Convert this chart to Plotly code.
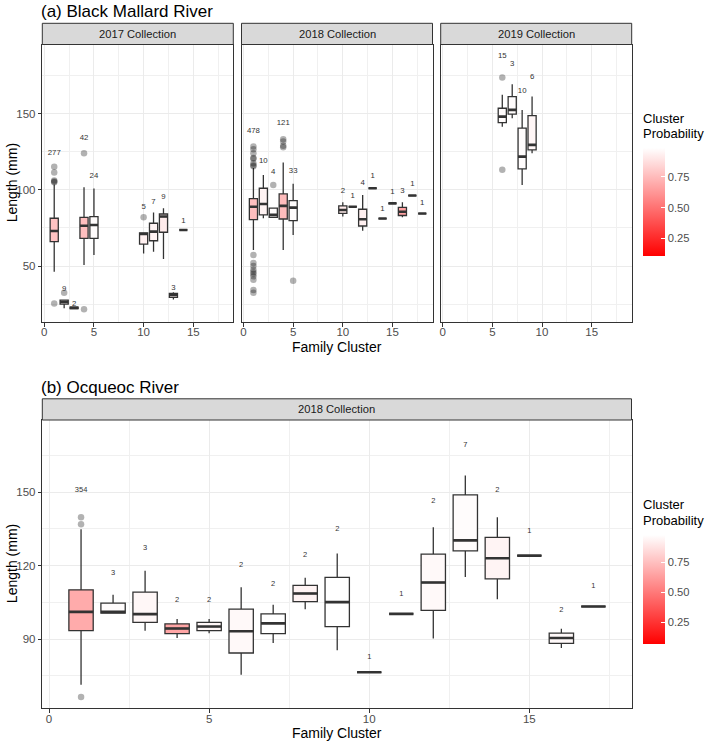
import plotly.graph_objects as go

W, H = 709, 744
FONT = "Liberation Sans, Arial, sans-serif"

# ---------------- DATA ----------------
# (a) Black Mallard River - 2017 Collection
c17 = [1, 2, 3, 4, 5, 10, 11, 12, 13, 14]
n17 = [277, 9, 2, 42, 24, 5, 7, 9, 3, 1]
q1_17 = [66.0, 25.0, 22.0, 68.2, 68.2, 64.4, 66.6, 72.2, 29.4, 73.7]
med_17 = [73.0, 26.3, 22.5, 76.5, 77.0, 71.0, 72.6, 82.5, 30.9, 73.7]
q3_17 = [81.4, 27.6, 23.0, 82.0, 82.5, 71.8, 78.1, 84.2, 32.0, 73.7]
lo_17 = [46.3, 22.2, 22.0, 50.7, 57.2, 58.3, 59.4, 54.6, 28.0, 73.7]
hi_17 = [103.5, 28.0, 23.0, 101.7, 101.0, 72.0, 85.1, 88.0, 32.7, 73.7]
prob_17 = [0.77, 0.95, 0.92, 0.76, 0.97, 0.93, 0.94, 0.91, 0.93, 0.95]
out17_c = [1, 1, 1, 1, 1, 1, 2, 4, 4, 10]
out17_v = [25.4, 105.0, 105.6, 106.2, 111.4, 115.3, 32.4, 21.5, 124.1, 82.0]

# (a) 2018 Collection
c18 = [1, 2, 3, 4, 5, 10, 11, 12, 13, 14, 15, 16, 17, 18]
n18 = [478, 10, 4, 121, 33, 2, 1, 4, 1, 1, 1, 3, 1, 1]
q1_18 = [80.5, 83.6, 82.0, 80.9, 79.8, 84.6, 89.0, 76.3, 101.1, 81.2, 91.2, 83.2, 96.3, 84.5]
med_18 = [89.0, 90.8, 83.6, 89.5, 88.4, 86.8, 89.0, 80.7, 101.1, 81.2, 91.2, 85.7, 96.3, 84.5]
q3_18 = [94.3, 101.1, 88.0, 97.4, 93.0, 89.5, 89.0, 87.3, 101.1, 81.2, 91.2, 88.6, 96.3, 84.5]
lo_18 = [60.5, 81.4, 82.0, 60.5, 70.4, 82.5, 89.0, 73.2, 101.1, 81.2, 91.2, 82.0, 96.3, 84.5]
hi_18 = [114.5, 109.9, 88.0, 118.0, 104.0, 91.9, 89.0, 96.7, 101.1, 81.2, 91.2, 91.9, 96.3, 84.5]
prob_18 = [0.76, 0.94, 0.97, 0.75, 0.97, 0.91, 0.95, 0.93, 0.95, 0.95, 0.95, 0.66, 0.95, 0.95]
out18_c = [1] * 18 + [3, 4, 4, 4, 4, 5]
out18_v = [128.5, 126.8, 124.1, 121.0, 120.5, 117.5, 116.2, 115.6,
           57.2, 52.0, 50.0, 47.6, 46.0, 44.8, 43.2, 41.0, 34.2, 32.4,
           103.3, 133.3, 131.8, 129.0, 128.0, 40.3]

# (a) 2019 Collection
c19 = [6, 7, 8, 9]
n19 = [15, 3, 10, 6]
q1_19 = [144.3, 149.8, 113.8, 126.3]
med_19 = [148.2, 152.6, 121.9, 129.6]
q3_19 = [153.7, 161.4, 140.6, 148.9]
lo_19 = [141.6, 147.2, 103.3, 124.1]
hi_19 = [162.5, 169.5, 152.6, 161.4]
prob_19 = [0.97, 0.97, 0.97, 0.95]
out19_c = [6, 6]
out19_v = [173.9, 113.2]

# (b) Ocqueoc River - 2018 Collection
cb = list(range(1, 18))
nb = [354, 3, 3, 2, 2, 2, 2, 2, 2, 1, 1, 2, 7, 2, 1, 2, 1]
q1_b = [93.4, 100.6, 96.8, 92.2, 93.4, 84.3, 92.2, 105.3, 95.1, 76.4, 100.3, 101.7, 126.0, 114.6, 124.1, 88.2, 103.3]
med_b = [101.1, 101.1, 100.2, 94.3, 95.1, 93.2, 96.4, 108.6, 105.1, 76.4, 100.3, 113.1, 130.3, 123.0, 124.1, 90.4, 103.3]
q3_b = [110.1, 104.7, 109.2, 96.2, 96.8, 102.2, 100.3, 111.9, 115.2, 76.4, 100.3, 124.7, 148.9, 131.5, 124.1, 92.4, 103.3]
lo_b = [71.3, 100.3, 93.4, 90.4, 92.4, 75.4, 88.4, 102.2, 85.4, 76.4, 100.3, 90.2, 115.3, 106.3, 124.1, 86.3, 103.3]
hi_b = [134.9, 108.1, 117.9, 98.2, 98.2, 111.2, 104.0, 115.0, 125.0, 76.4, 100.3, 135.7, 156.8, 139.8, 124.1, 94.2, 103.3]
prob_b = [0.68, 0.97, 0.95, 0.66, 0.95, 0.96, 0.98, 0.94, 0.98, 0.96, 0.96, 0.96, 0.97, 0.94, 0.96, 0.96, 0.96]
outb_c = [1, 1, 1]
outb_v = [139.8, 136.9, 66.3]

x_ticks = [0, 5, 10, 15]
ya_ticks = [50, 100, 150]
yb_ticks = [90, 120, 150]
cbar_ticks = [0.25, 0.50, 0.75]
strip_a = ["2017 Collection", "2018 Collection", "2019 Collection"]
strip_b = "2018 Collection"

# ---------------- STYLE / LAYOUT ----------------
def px(x):
    return x / W

def py(y):
    return 1 - y / H

CMIN_A, CMAX_A = 0.106, 0.98
CMIN_B, CMAX_B = 0.07, 0.98
SCALE = [[0, "#FF0000"], [1, "#FFFFFF"]]

def fill(p, cmin, cmax):
    t = max(0.0, min(1.0, (p - cmin) / (cmax - cmin)))
    g = round(255 * t)
    return f"rgb(255,{g},{g})"

fig = go.Figure()

def add_panel(xa, ya, cs, ns, q1, med, q3, lo, hi, prob, oc, ov, width, cmin, cmax, lblsize):
    for i, c in enumerate(cs):
        fig.add_trace(go.Box(
            x=[c], q1=[q1[i]], median=[med[i]], q3=[q3[i]],
            lowerfence=[lo[i]], upperfence=[hi[i]],
            width=width, fillcolor=fill(prob[i], cmin, cmax),
            line=dict(color="#333333", width=1.3), whiskerwidth=0,
            boxpoints=False, xaxis=xa, yaxis=ya, showlegend=False, hoverinfo="skip"))
    mx, my = [], []
    for i, c in enumerate(cs):
        mx += [c - width / 2, c + width / 2, None]
        my += [med[i], med[i], None]
    fig.add_trace(go.Scatter(x=mx, y=my, mode="lines", line=dict(color="#333333", width=2.6),
                             xaxis=xa, yaxis=ya, showlegend=False, hoverinfo="skip"))
    fig.add_trace(go.Scatter(x=oc, y=ov, mode="markers",
                             marker=dict(size=6.5, color="rgba(0,0,0,0.3)", line=dict(width=0)),
                             xaxis=xa, yaxis=ya, showlegend=False, hoverinfo="skip"))
    ly = []
    for i, c in enumerate(cs):
        m = hi[i]
        for cc, vv in zip(oc, ov):
            if cc == c:
                m = max(m, vv)
        ly.append(1.08 * m)
    fig.add_trace(go.Scatter(x=cs, y=ly, mode="text", text=[str(n) for n in ns],
                             textfont=dict(size=lblsize, color="#333333", family=FONT),
                             xaxis=xa, yaxis=ya, showlegend=False, hoverinfo="skip"))

WA = 0.82
WB = 0.76
add_panel("x", "y", c17, n17, q1_17, med_17, q3_17, lo_17, hi_17, prob_17, out17_c, out17_v, WA, CMIN_A, CMAX_A, 7.8)
add_panel("x2", "y2", c18, n18, q1_18, med_18, q3_18, lo_18, hi_18, prob_18, out18_c, out18_v, WA, CMIN_A, CMAX_A, 7.8)
add_panel("x3", "y3", c19, n19, q1_19, med_19, q3_19, lo_19, hi_19, prob_19, out19_c, out19_v, WA, CMIN_A, CMAX_A, 7.8)
add_panel("x4", "y4", cb, nb, q1_b, med_b, q3_b, lo_b, hi_b, prob_b, outb_c, outb_v, WB, CMIN_B, CMAX_B, 7.5)

LEG_FONT = 11.2

def cbar_trace(xa, ya, cmin, cmax, top_px, len_px):
    return go.Scatter(
        x=[-50], y=[-50], mode="markers", xaxis=xa, yaxis=ya, showlegend=False, hoverinfo="skip",
        marker=dict(color=[cmin], cmin=cmin, cmax=cmax, colorscale=SCALE, showscale=True, size=1,
                    colorbar=dict(x=px(643), xanchor="left", y=py(top_px), yanchor="top",
                                  len=len_px, lenmode="pixels", thickness=22, thicknessmode="pixels",
                                  outlinewidth=0, xpad=0, ypad=0,
                                  tickvals=cbar_ticks, ticktext=[f"{v:.2f}" for v in cbar_ticks],
                                  ticks="inside", ticklen=4, tickcolor="white",
                                  tickfont=dict(size=LEG_FONT, color="#4D4D4D", family=FONT))))

fig.add_trace(cbar_trace("x", "y", CMIN_A, CMAX_A, 148.3, 108))
fig.add_trace(cbar_trace("x4", "y4", CMIN_B, CMAX_B, 535, 109))

TOP_Y = (44.5, 322.0)
BOT_Y = (420.0, 708.3)
PANELS_X = [(42.3, 233.3), (241.5, 432.5), (440.7, 631.7)]
BOT_X = (42.3, 631.5)

tickfont = dict(size=11.5, color="#4D4D4D", family=FONT)

def xaxis(dom, rng, anchor):
    return dict(domain=[px(dom[0]), px(dom[1])], range=rng, anchor=anchor,
                tickvals=x_ticks, ticks="outside", ticklen=3.5, tickcolor="#333333", tickwidth=1,
                ticklabelstandoff=-4,
                tickfont=tickfont, showgrid=True, gridcolor="#EBEBEB", gridwidth=1.1,
                minor=dict(tickvals=[2.5, 7.5, 12.5, 17.5], showgrid=True, gridcolor="#F0F0F0", gridwidth=0.6),
                showline=True, linecolor="#333333", linewidth=1, mirror=True, zeroline=False,
                automargin=False, fixedrange=True)

def yaxis(dom, rng, anchor, ticks, minor_vals, labels=True):
    return dict(domain=[py(dom[1]), py(dom[0])], range=rng, anchor=anchor,
                tickvals=ticks, ticks="outside" if labels else "", ticklen=3.5, tickcolor="#333333",
                showticklabels=labels, tickfont=tickfont, showgrid=True, gridcolor="#EBEBEB", gridwidth=1.1,
                minor=dict(tickvals=minor_vals, showgrid=True, gridcolor="#F0F0F0", gridwidth=0.6),
                showline=True, linecolor="#333333", linewidth=1, mirror=True, zeroline=False,
                automargin=False, fixedrange=True)

XR_A = [-0.2, 19.03]
XR_B = [-0.21, 18.19]
YR_A = [13.2, 195.6]
YR_B = [61.7, 179.5]
minA = [25, 75, 125, 175]
minB = [75, 105, 135, 165]

fig.update_layout(
    width=W, height=H, template="none",
    margin=dict(l=0, r=0, t=0, b=0),
    paper_bgcolor="white", plot_bgcolor="white", showlegend=False,
    font=dict(family=FONT),
    xaxis=xaxis(PANELS_X[0], XR_A, "y"),
    xaxis2=xaxis(PANELS_X[1], XR_A, "y2"),
    xaxis3=xaxis(PANELS_X[2], XR_A, "y3"),
    xaxis4=xaxis(BOT_X, XR_B, "y4"),
    yaxis=yaxis(TOP_Y, YR_A, "x", ya_ticks, minA, True),
    yaxis2=yaxis(TOP_Y, YR_A, "x2", ya_ticks, minA, False),
    yaxis3=yaxis(TOP_Y, YR_A, "x3", ya_ticks, minA, False),
    yaxis4=yaxis(BOT_Y, YR_B, "x4", yb_ticks, minB, True),
)

shapes = []
ann = []
STRIP_H = 21.2
STRIP_FONT = dict(size=11.2, color="#1A1A1A", family=FONT)
for (x0, x1), label in zip(PANELS_X, strip_a):
    shapes.append(dict(type="rect", xref="paper", yref="paper", x0=px(x0), x1=px(x1),
                       y0=py(TOP_Y[0]), y1=py(TOP_Y[0] - STRIP_H),
                       fillcolor="#D9D9D9", line=dict(color="#333333", width=1)))
    ann.append(dict(text=label, x=px((x0 + x1) / 2), y=py(TOP_Y[0] - STRIP_H / 2), xref="paper", yref="paper",
                    showarrow=False, xanchor="center", yanchor="middle", font=STRIP_FONT))
shapes.append(dict(type="rect", xref="paper", yref="paper", x0=px(BOT_X[0]), x1=px(BOT_X[1]),
                   y0=py(BOT_Y[0]), y1=py(BOT_Y[0] - STRIP_H),
                   fillcolor="#D9D9D9", line=dict(color="#333333", width=1)))
ann.append(dict(text=strip_b, x=px((BOT_X[0] + BOT_X[1]) / 2), y=py(BOT_Y[0] - STRIP_H / 2), xref="paper", yref="paper",
                showarrow=False, xanchor="center", yanchor="middle", font=STRIP_FONT))

# titles (aligned with panel left edge, as ggplot does)
TITLE_FONT = dict(size=17, color="black", family=FONT)
ann.append(dict(text="(a) Black Mallard River", x=px(39), y=py(TOP_Y[0] - STRIP_H - 11.5), xref="paper", yref="paper",
                showarrow=False, xanchor="left", yanchor="middle", font=TITLE_FONT))
ann.append(dict(text="(b) Ocqueoc River", x=px(39), y=py(BOT_Y[0] - STRIP_H - 11.5), xref="paper", yref="paper",
                showarrow=False, xanchor="left", yanchor="middle", font=TITLE_FONT))

# axis titles
AX_FONT = dict(size=14, color="black", family=FONT)
for (y0, y1), tx in [(TOP_Y, 347), (BOT_Y, 733)]:
    ann.append(dict(text="Length (mm)", x=px(12), y=py((y0 + y1) / 2), xref="paper", yref="paper",
                    showarrow=False, textangle=-90, xanchor="center", yanchor="middle", font=AX_FONT))
    ann.append(dict(text="Family Cluster", x=px(337), y=py(tx), xref="paper", yref="paper",
                    showarrow=False, xanchor="center", yanchor="middle", font=AX_FONT))

# legend titles
LT_FONT = dict(size=13, color="black", family=FONT)
for top in [148.3, 535]:
    ann.append(dict(text="Cluster", x=px(641), y=py(top - 30), xref="paper", yref="paper",
                    showarrow=False, xanchor="left", yanchor="middle", font=LT_FONT))
    ann.append(dict(text="Probability", x=px(641), y=py(top - 15), xref="paper", yref="paper",
                    showarrow=False, xanchor="left", yanchor="middle", font=LT_FONT))

fig.update_layout(shapes=shapes, annotations=ann)
fig.write_html("out.html", config={"displayModeBar": False},
               post_script="document.body.style.margin='0';document.body.style.overflow='hidden';")
